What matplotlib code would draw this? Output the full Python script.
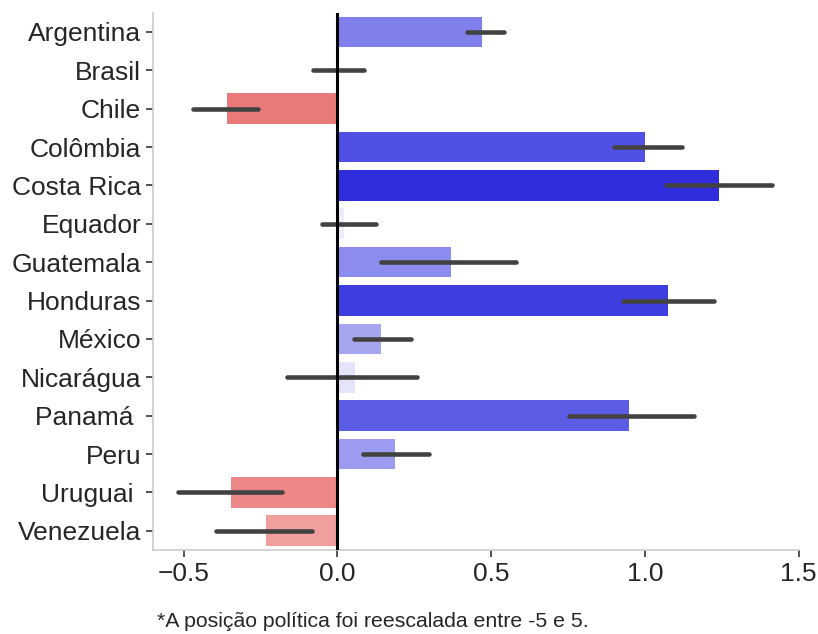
import numpy as np
import matplotlib
matplotlib.use("Agg")
import matplotlib.pyplot as plt

plt.rcParams['font.family'] = ['Liberation Sans', 'DejaVu Sans']

# posição política média por país (escala reescalada) e intervalo de confiança
paises = ['Argentina', 'Brasil', 'Chile', 'Colômbia', 'Costa Rica', 'Equador',
          'Guatemala', 'Honduras', 'México', 'Nicarágua', 'Panamá ', 'Peru',
          'Uruguai ', 'Venezuela']
media = [0.47, 0.003, -0.36, 1.0, 1.24, 0.02, 0.37, 1.075, 0.14, 0.058,
         0.947, 0.186, -0.346, -0.232]
ic_baixo = [0.42, -0.08, -0.47, 0.90, 1.07, -0.05, 0.14, 0.93, 0.055, -0.165,
            0.754, 0.083, -0.52, -0.394]
ic_alto = [0.54, 0.085, -0.26, 1.12, 1.414, 0.125, 0.58, 1.225, 0.24, 0.26,
           1.16, 0.297, -0.18, -0.082]

cores = ['#8080ec', '#f4f4fc', '#ea7a7a', '#5050e4', '#302ddc', '#eeeefb',
         '#8c8cee', '#3e3ee0', '#a5a5f0', '#e4e4fa', '#5c5ce4', '#9b9bf0',
         '#ee8888', '#f09e9e']

fig = plt.figure(figsize=(8.18, 6.34), dpi=100)
ax = fig.add_axes([0.187, 0.1325, 0.7894, 0.8475])

y = np.arange(len(paises))
ax.barh(y, media, height=0.8, color=cores, zorder=2)
for yi, lo, hi in zip(y, ic_baixo, ic_alto):
    ax.plot([lo, hi], [yi, yi], color='#424242', lw=3.3, solid_capstyle='round', zorder=3)

ax.axvline(0, color='black', lw=2.2, zorder=4)

ax.set_yticks(y)
ax.set_yticklabels(paises)
ax.set_ylim(len(paises) - 0.5, -0.5)
ax.set_xlim(-0.6, 1.5)
ax.set_xticks([-0.5, 0.0, 0.5, 1.0, 1.5])

for lado in ['top', 'right']:
    ax.spines[lado].set_visible(False)
for lado in ['left', 'bottom']:
    ax.spines[lado].set_color('#cccccc')
    ax.spines[lado].set_linewidth(1.2)
ax.tick_params(axis='both', labelsize=19, colors='#333333', length=5, width=1.2, labelcolor='#262626')

fig.text(0.192, 0.011, '*A posição política foi reescalada entre -5 e 5.', fontsize=15.3,
         color='#262626', va='baseline')

fig.savefig('out.png', dpi=100)
